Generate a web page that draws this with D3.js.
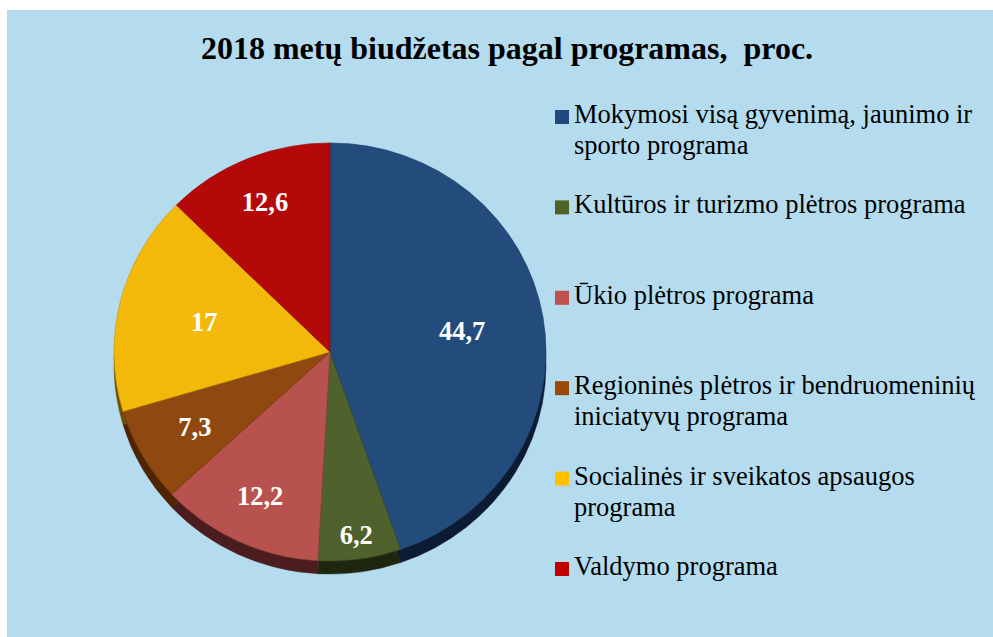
<!DOCTYPE html>
<html>
<head>
<meta charset="utf-8">
<script src="https://cdn.jsdelivr.net/npm/d3@7/dist/d3.min.js"></script>
<style>
	html, body { margin: 0; padding: 0; background: #fff; }
	svg text { font-family: "Liberation Serif", "Times New Roman", serif; }
</style>
</head>
<body>
<svg width="993" height="637"></svg>
<script>
// data
const programs = [
	"Mokymosi visą gyvenimą, jaunimo ir|sporto programa",
	"Kultūros ir turizmo plėtros programa",
	"Ūkio plėtros programa",
	"Regioninės plėtros ir bendruomeninių|iniciatyvų programa",
	"Socialinės ir sveikatos apsaugos|programa",
	"Valdymo programa"
];
const shares = [ 44.7, 6.2, 12.2, 7.3, 17, 12.6 ];
const shareLabels = [ "44,7", "6,2", "12,2", "7,3", "17", "12,6" ];

// look
const faceColors = [ "#234c7d", "#4f612c", "#b8524f", "#8f4910", "#f3b90a", "#b50808" ];
const sideColors = [ "#0c1b33", "#1f2610", "#4c1d1e", "#4f2400", "#6b5004", "#4f0303" ];
const keyColors  = [ "#1f497d", "#4f6228", "#c0504d", "#984807", "#ffc000", "#c00000" ];
const labelReach = [ 0.62, 0.88, 0.76, 0.72, 0.60, 0.78 ];

const svg = d3.select( "svg" );
svg.append( "rect" )
	.attr( "x", 7 ).attr( "y", 10 )
	.attr( "width", 986 ).attr( "height", 627 )
	.attr( "fill", "#b4dcee" );

svg.append( "text" )
	.attr( "x", 507 ).attr( "y", 59 )
	.attr( "text-anchor", "middle" )
	.style( "white-space", "pre" )
	.attr( "font-size", 32 ).attr( "font-weight", "bold" )
	.attr( "fill", "#000" )
	.text( "2018 metų biudžetas pagal programas,  proc." );

// pie
const cx = 330, cy = 352, r = 216, squash = 0.968, depth = 13;
const rows = shares.map( ( v, i ) => ({ i, v }) );
const pie = d3.pie().value( d => d.v ).sort( null );
const arcs = pie( rows );
const arc = d3.arc().innerRadius( 0 ).outerRadius( r );

const side = svg.append( "g" )
	.attr( "transform", `translate(${cx},${cy + depth}) scale(1,${squash})` );
side.selectAll( "path" )
	.data( arcs )
	.enter().append( "path" )
	.attr( "d", arc )
	.attr( "fill", d => sideColors[ d.data.i ] )
	.attr( "stroke", d => sideColors[ d.data.i ] )
	.attr( "stroke-width", 0.5 );

const face = svg.append( "g" )
	.attr( "transform", `translate(${cx},${cy}) scale(1,${squash})` );
face.selectAll( "path" )
	.data( arcs )
	.enter().append( "path" )
	.attr( "d", arc )
	.attr( "fill", d => faceColors[ d.data.i ] )
	.attr( "stroke", d => d3.color( faceColors[ d.data.i ] ).darker( 0.6 ) )
	.attr( "stroke-width", 0.6 );

const labels = svg.append( "g" ).attr( "transform", `translate(${cx},${cy})` );
labels.selectAll( "text" )
	.data( arcs )
	.enter().append( "text" )
	.attr( "transform", d => {
		let k = labelReach[ d.data.i ] * r;
		let [ x, y ] = d3.arc().innerRadius( k ).outerRadius( k ).centroid( d );
		return `translate(${x},${y * squash})`;
	})
	.attr( "text-anchor", "middle" )
	.attr( "dy", "0.35em" )
	.attr( "font-size", 26.5 ).attr( "font-weight", "bold" )
	.attr( "fill", "#fff" )
	.text( d => shareLabels[ d.data.i ] );

// legend
const y = d3.scalePoint().domain( d3.range( programs.length ) ).range( [ 123, 575 ] );
const key = svg.append( "g" )
	.selectAll( "g" )
	.data( programs )
	.enter().append( "g" )
	.attr( "transform", ( d, i ) => `translate(0,${y( i )})` );
key.append( "rect" )
	.attr( "x", 555 ).attr( "y", -13 )
	.attr( "width", 14 ).attr( "height", 14 )
	.attr( "fill", ( d, i ) => keyColors[ i ] );
key.append( "text" )
	.attr( "x", 574 )
	.attr( "font-size", 26.5 )
	.attr( "fill", "#000" )
	.selectAll( "tspan" )
	.data( d => d.split( "|" ) )
	.enter().append( "tspan" )
	.attr( "x", 574 )
	.attr( "dy", ( d, j ) => j ? 31 : 0 )
	.text( d => d );
</script>
</body>
</html>
